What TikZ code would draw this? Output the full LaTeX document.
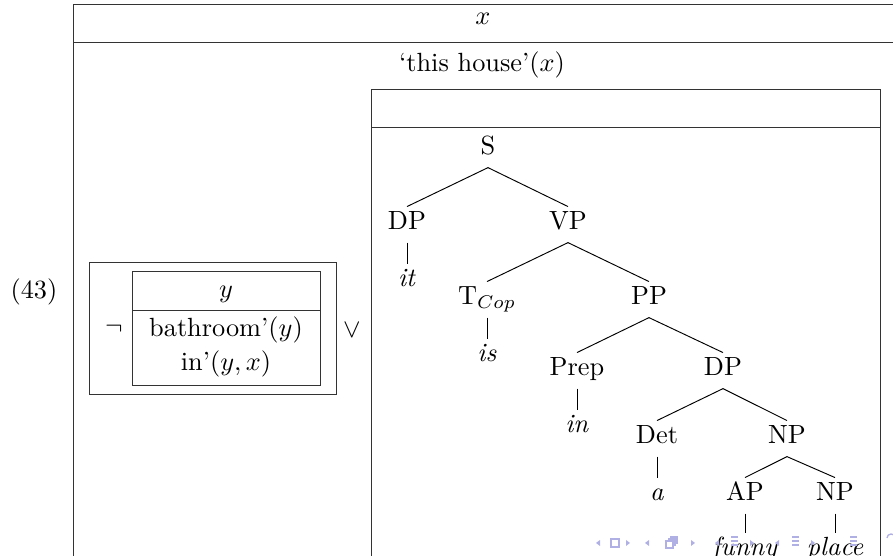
\documentclass[tikz,border=0pt]{standalone}
\usetikzlibrary{calc}
\begin{document}
\begin{tikzpicture}[x=0.38pt,y=-0.38pt,
  every node/.style={font=\fontsize{10}{12}\selectfont},
  tn/.style={inner sep=0pt, text height=8.7pt, text depth=4.6pt, anchor=base},
  lbl/.style={inner sep=0pt, anchor=base},
  box/.style={draw=black!80, line width=0.38pt},
  edge/.style={line width=0.36pt},
  nav/.style={draw=navc, line width=0.5pt},
  navf/.style={fill=navc}]
\definecolor{navc}{RGB}{176,176,228}
\useasboundingbox (0,0) rectangle (893,556);

% outer DRS
\draw[box] (73,620) -- (73,5) -- (920,5);
\draw[box] (73,43) -- (920,43);
\node[lbl] (xref) at (483,25) {$x$};
\node[lbl] (house) at (482,72) {`this house'$(x)$};

% example number
\node[lbl] (num) at (34,299) {(43)};

% negated DRS
\draw[box] (89,263) rectangle (336,395);
\draw[box] (132,272) rectangle (320,386);
\draw[box] (132,311) -- (320,311);
\node[lbl] (yref) at (226,298) {$y$};
\node[lbl] (bath) at (226,337) {bathroom'$(y)$};
\node[lbl] (inyx) at (226,371) {in'$(y,x)$};
\node (neg) at (114,329) {$\neg$};
\node (or) at (352,330) {$\vee$};

% right DRS
\draw[box] (371,620) -- (371,90) -- (880,90) -- (880,620);
\draw[box] (371,128) -- (880,128);

% tree
\node[tn] (S) at (488,155) {S};
\node[tn] (DP) at (407,230) {DP};
\node[tn] (VP) at (568,230) {VP};
\node[tn] (it) at (407,287) {\textit{it}};
\node[tn] (T) at (487,305) {T$_{Cop}$};
\node[tn] (PP) at (649,305) {PP};
\node[tn] (is) at (487,362) {\textit{is}};
\node[tn] (Prep) at (577,376) {Prep};
\node[tn] (DPb) at (723,376) {DP};
\node[tn] (in) at (577,433) {\textit{in}};
\node[tn] (Det) at (657,444) {Det};
\node[tn] (NP) at (787,444) {NP};
\node[tn] (a) at (657,501) {\textit{a}};
\node[tn] (AP) at (745,501) {AP};
\node[tn] (NPb) at (835,501) {NP};
\node[tn] (funny) at (745,556) {\textit{funny}};
\node[tn] (place) at (835,556) {\textit{place}};

\draw[edge] (S.south) -- (DP.north);
\draw[edge] (S.south) -- (VP.north);
\draw[edge] (DP.south) -- (it.north);
\draw[edge] (VP.south) -- (T.north);
\draw[edge] (VP.south) -- (PP.north);
\draw[edge] (T.south) -- (is.north);
\draw[edge] (PP.south) -- (Prep.north);
\draw[edge] (PP.south) -- (DPb.north);
\draw[edge] (Prep.south) -- (in.north);
\draw[edge] (DPb.south) -- (Det.north);
\draw[edge] (DPb.south) -- (NP.north);
\draw[edge] (Det.south) -- (a.north);
\draw[edge] (NP.south) -- (AP.north);
\draw[edge] (NP.south) -- (NPb.north);
\draw[edge] (AP.south) -- (funny.north);
\draw[edge] (NPb.south) -- (place.north);

% navigation symbols (faint)
\fill[navf] (600,540) -- (596,543) -- (600,546) -- cycle;
\draw[nav] (611,539) rectangle (619,547);
\fill[navf] (626,540) -- (630,543) -- (626,546) -- cycle;
\fill[navf] (649,540) -- (645,543) -- (649,546) -- cycle;
\draw[nav] (666,541) rectangle (673,548);
\draw[nav] (668,539) -- (675,539) -- (675,546);
\draw[nav] (670,537) -- (677,537) -- (677,544);
\fill[navf] (691,540) -- (695,543) -- (691,546) -- cycle;
\fill[navf] (719,540) -- (715,543) -- (719,546) -- cycle;
\draw[nav] (731,537) -- (738,537) (731,541) -- (738,541) (731,545) -- (738,545);
\fill[navf] (750,540) -- (754,543) -- (750,546) -- cycle;
\fill[navf] (779,540) -- (775,543) -- (779,546) -- cycle;
\draw[nav] (792,537) -- (799,537) (792,541) -- (799,541) (792,545) -- (799,545);
\fill[navf] (811,540) -- (815,543) -- (811,546) -- cycle;
\draw[nav] (850,537) -- (857,537) (850,541) -- (857,541) (850,545) -- (857,545);
\draw[nav] (887,538) arc (180:340:4);
\end{tikzpicture}
\end{document}
